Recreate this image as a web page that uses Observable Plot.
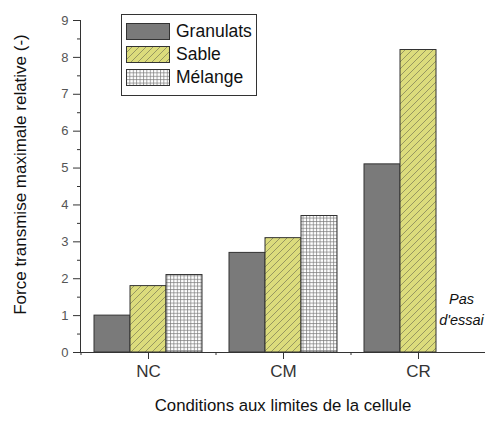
<!DOCTYPE html>
<html><head><meta charset="utf-8">
<script src="https://cdn.jsdelivr.net/npm/d3@7"></script>
<script src="https://cdn.jsdelivr.net/npm/@observablehq/plot@0.6"></script>
<style>
body{margin:0;background:#fff;font-family:"Liberation Sans",Arial,sans-serif;}
#wrap{position:relative;width:485px;height:421px;}
#legend{position:absolute;left:121px;top:14px;width:134px;height:80px;border:1px solid #333;background:#fff;}
.row{position:absolute;left:4px;height:17px;display:flex;align-items:center;font-size:17.5px;color:#111;}
.row svg{margin-right:6px;}
</style></head><body><div id="wrap"></div>
<script>
const categories = ["NC", "CM", "CR"];
const series = ["Granulats", "Sable", "Mélange"];
const granulats = [1.0, 2.7, 5.1];
const sable = [1.8, 3.1, 8.2];
const melange = [2.1, 3.7, null];
const yTicks = [0, 1, 2, 3, 4, 5, 6, 7, 8, 9];
const yMinorTicks = [0.5, 1.5, 2.5, 3.5, 4.5, 5.5, 6.5, 7.5, 8.5];
const yTitle = "Force transmise maximale relative (-)";
const xTitle = "Conditions aux limites de la cellule";
const noTest = [{category: "CR", label: "Pas\nd'essai"}];

const fills = {"Granulats": "#7a7a7a", "Sable": "url(#hatch)", "Mélange": "url(#grid)"};
const valuesBySeries = {"Granulats": granulats, "Sable": sable, "Mélange": melange};
const bw = 108, bar = bw / 3;

const barMarks = series.map((s, k) => Plot.barY(
  categories.map((c, i) => ({category: c, value: valuesBySeries[s][i]})).filter(d => d.value != null),
  {x: "category", y: "value", fill: fills[s], stroke: "#333", strokeWidth: 1,
   insetLeft: k * bar, insetRight: (2 - k) * bar}
));

const chart = Plot.plot({
  width: 485, height: 421,
  marginLeft: 80, marginRight: 0, marginTop: 20, marginBottom: 69,
  style: {fontFamily: "'Liberation Sans', Arial, sans-serif", background: "#fff"},
  x: {type: "band", domain: categories, paddingInner: 0.2, paddingOuter: 0.1, axis: null},
  y: {domain: [0, 9], axis: null},
  marks: [
    ...barMarks,
    Plot.ruleY([0], {stroke: "#333"}),
    Plot.frame({anchor: "left", stroke: "#333"}),
    Plot.axisY({ticks: yTicks, tickSize: 7, tickPadding: 5, fontSize: 13, color: "#555", stroke: "#333", label: null}),
    Plot.axisY({ticks: yMinorTicks, tickSize: 3, tickFormat: () => "", stroke: "#333", label: null}),
    Plot.axisX({tickSize: 7, tickPadding: 5, fontSize: 17, color: "#333", stroke: "#333", label: null}),
    Plot.axisX({tickSize: 3, dx: -67.5, tickFormat: () => "", stroke: "#333", label: null}),
    Plot.text([yTitle], {frameAnchor: "left", textAnchor: "middle", rotate: -90, dx: -60, dy: -12, fontSize: 17, fill: "#111"}),
    Plot.text([xTitle], {frameAnchor: "bottom", dy: 58, fontSize: 16.8, fill: "#111"}),
    Plot.text(noTest, {x: "category", y: () => 1.2, text: "label", dx: 43, fontStyle: "italic", fontSize: 14.5, lineHeight: 1.45, fill: "#111"})
  ]
});

const defs = d3.select(chart).insert("defs", ":first-child");
const h = defs.append("pattern").attr("id", "hatch").attr("patternUnits", "userSpaceOnUse").attr("width", 7).attr("height", 7);
h.append("rect").attr("width", 7).attr("height", 7).attr("fill", "#dcdc7c");
h.append("path").attr("d", "M-1,1 L1,-1 M0,7 L7,0 M6,8 L8,6").attr("stroke", "#85855a").attr("stroke-width", 0.8);
const g = defs.append("pattern").attr("id", "grid").attr("patternUnits", "userSpaceOnUse").attr("width", 3.4).attr("height", 3.4);
g.append("rect").attr("width", 3.4).attr("height", 3.4).attr("fill", "#fff");
g.append("path").attr("d", "M0,0.5 H3.4 M0.5,0 V3.4").attr("stroke", "#777").attr("stroke-width", 0.7);

const wrap = document.getElementById("wrap");
wrap.appendChild(chart);

const legend = document.createElement("div");
legend.id = "legend";
series.forEach((s, k) => {
  const row = document.createElement("div");
  row.className = "row";
  row.style.top = (8 + k * 23) + "px";
  row.innerHTML = `<svg width="44" height="17"><rect x="0.5" y="0.5" width="43" height="16" fill="${fills[s]}" stroke="#333"/></svg><span>${s}</span>`;
  legend.appendChild(row);
});
wrap.appendChild(legend);
</script></body></html>
